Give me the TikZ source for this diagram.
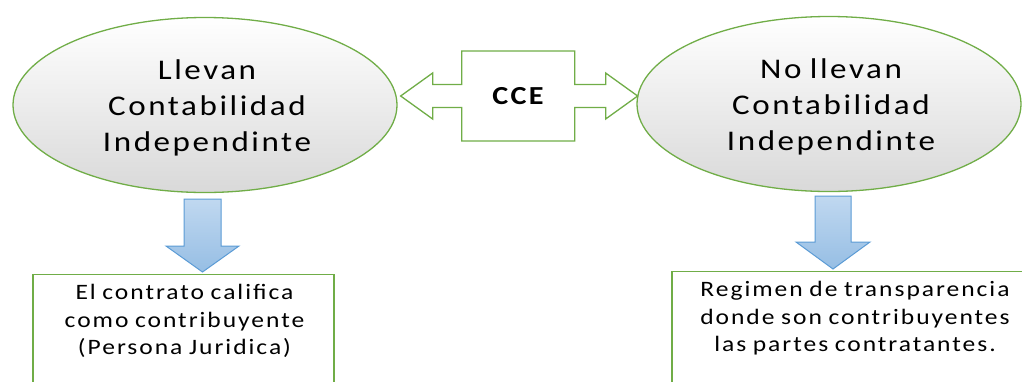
\documentclass[tikz,border=0pt]{standalone}
\usepackage{fontspec}
\setmainfont{Carlito}
\newfontfamily\wide[FakeStretch=1.16,LetterSpace=9,WordSpace=0.85]{Carlito}
\usepackage{tikz}
\usetikzlibrary{shapes.geometric, positioning, calc}
\definecolor{leafgreen}{RGB}{112,173,71}
\definecolor{arrowblue}{RGB}{91,155,213}
\definecolor{arrowtop}{RGB}{192,216,240}
\definecolor{arrowbot}{RGB}{150,190,228}

\begin{document}
\begin{tikzpicture}[x=1pt, y=-1pt,
    oval/.style={ellipse, draw=leafgreen, line width=1.3pt, top color=white, bottom color=gray!30, minimum width=384pt, minimum height=175pt, inner sep=0pt},
    ovaltext/.style={align=center, font=\wide\fontsize{28.5}{36}\selectfont},
    outbox/.style={rectangle, draw=leafgreen, line width=1.3pt, fill=white, anchor=north, minimum height=130pt},
    outtext/.style={align=center, anchor=north, font=\wide\fontsize{22}{27.5}\selectfont},
    hubshape/.style={draw=leafgreen, line width=1.3pt, fill=white, line join=miter},
    downarrow/.style={draw=arrowblue, line width=1pt, top color=arrowtop, bottom color=arrowbot}
]
\useasboundingbox (0,0) rectangle (1022,381);
\clip (0,0) rectangle (1022,381);

% the two groups
\node[oval] (llevan) at (205,105) {};
\node[oval] (nollevan) at (829,104) {};
\node[ovaltext] (llevantext) at ($(llevan)+(2,3)$) {Llevan\\Contabilidad\\Independinte};
\node[ovaltext] (nollevantext) at ($(nollevan)+(2,3)$) {No llevan\\Contabilidad\\Independinte};

% CCE double arrow
\coordinate (hub) at (517,96);
\draw[hubshape] (llevan.east |- hub) ++(3,0) -- ++(32,-23) -- ++(0,11.5) -- ++(29,0) -- ++(0,-33.5) -- ++(113,0) -- ++(0,33.5) -- ++(31,0) -- ++(0,-11.5) -- ++(32,23)
    -- ++(-32,23) -- ++(0,-11.5) -- ++(-31,0) -- ++(0,33.5) -- ++(-113,0) -- ++(0,-33.5) -- ++(-29,0) -- ++(0,11.5) -- cycle;
\node[font=\wide\bfseries\fontsize{26}{30}\selectfont] (cce) at ($(hub)+(1,0)$) {CCE};

% results
\node[outbox, minimum width=301pt] (leftbox) at (183.5,274) {};
\node[outbox, minimum width=364pt] (rightbox) at (854,271) {};
\node[outtext] (lefttext) at ($(leftbox.north)+(1,7)$) {El contrato califica\\como contribuyente\\(Persona Juridica)};
\node[outtext] (righttext) at ($(rightbox.north)+(1,7)$) {Regimen de transparencia\\donde son contribuyentes\\las partes contratantes.};

% down arrows
\coordinate (ltip) at (202.5,272);
\coordinate (rtip) at (833,269);
\draw[downarrow] (ltip) -- ++(-36.5,-26) -- ++(18,0) -- ++(0,-47) -- ++(37,0) -- ++(0,47) -- ++(18,0) -- cycle;
\draw[downarrow] (rtip) -- ++(-37,-27) -- ++(19,0) -- ++(0,-46) -- ++(36,0) -- ++(0,46) -- ++(19,0) -- cycle;

\end{tikzpicture}
\end{document}
